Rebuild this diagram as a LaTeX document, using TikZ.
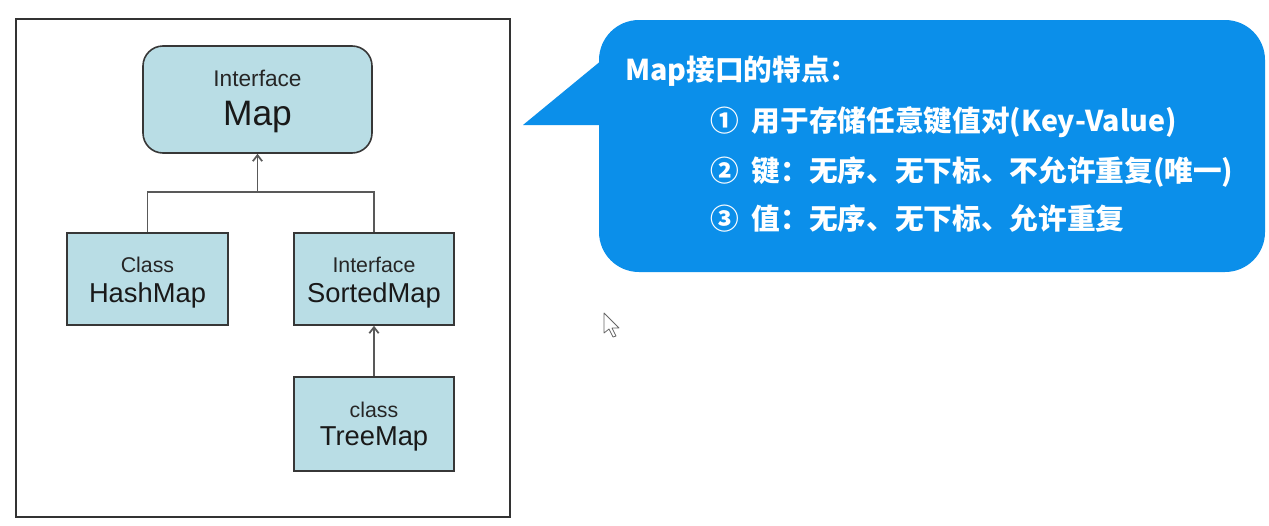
\documentclass[tikz,border=0pt]{standalone}
\usepackage{fontspec}
\setmainfont{Liberation Sans}
\newfontfamily\cjk{Noto Sans CJK SC}
\usetikzlibrary{arrows.meta}
\definecolor{boxfill}{RGB}{185,221,229}
\definecolor{boxline}{RGB}{55,55,55}
\definecolor{bubble}{RGB}{11,143,234}
\tikzset{
  x=0.75pt, y=-0.75pt,
  umlbox/.style={draw=boxline, line width=1.2pt, fill=boxfill, inner sep=0pt},
  small/.style={anchor=base, font=\fontsize{16}{18}\selectfont, text=black!85},
  big/.style={anchor=base, font=\fontsize{20.5}{22}\selectfont, text=black!90},
  conn/.style={draw=black!65, line width=1.3pt},
  arr/.style={conn, -{Straight Barb[length=4.5pt,width=7pt]}},
  cn/.style={anchor=base west, text=white, font=\cjk\bfseries\fontsize{21.5}{23}\selectfont, inner sep=0pt}
}
\begin{document}
\begin{tikzpicture}
\useasboundingbox (0,0) rectangle (1269,525);
% frame
\node[draw=black!80, line width=1.2pt, minimum width=494*0.75pt, minimum height=498*0.75pt, inner sep=0pt] (frame) at (263,268) {};
% boxes
\node[umlbox, rounded corners=15pt, minimum width=229*0.75pt, minimum height=107*0.75pt] (map) at (257.5,99.5) {};
\node[umlbox, minimum width=161*0.75pt, minimum height=92*0.75pt] (hash) at (147.5,279) {};
\node[umlbox, minimum width=160*0.75pt, minimum height=92*0.75pt] (sorted) at (374,279) {};
\node[umlbox, minimum width=160*0.75pt, minimum height=94*0.75pt] (tree) at (374,424) {};
% texts
\node[small, font=\fontsize{17}{19}\selectfont] (t1) at (257.5,86) {Interface};
\node[big, font=\fontsize{26.5}{28}\selectfont] (t2) at (257.5,125) {Map};
\node[small] (t3) at (147.5,272) {Class};
\node[big] (t4) at (147.5,302) {HashMap};
\node[small] (t5) at (374,272) {Interface};
\node[big] (t6) at (374,302) {SortedMap};
\node[small] (t7) at (374,417) {class};
\node[big] (t8) at (374,445) {TreeMap};
% connectors
\coordinate (junc) at (map.south |- 0,192);
\draw[conn] (hash.north) |- (sorted.north |- junc) -- (sorted.north);
\draw[arr] (junc) -- (map.south);
\draw[arr] (tree.north) -- (sorted.south);
% bubble
\fill[bubble] (602,60) -- (523,125) -- (602,125) -- cycle;
\node[fill=bubble, rounded corners=30pt, minimum width=666*0.75pt, minimum height=252*0.75pt, inner sep=0pt] (bub) at (932,146) {};
\node[cn] (l0) at (625,80) {Map接口的特点：};
\node[cn] (l1) at (710,131) {①\hspace{0.45em}用于存储任意键值对(Key-Value)};
\node[cn] (l2) at (710,181) {②\hspace{0.45em}键：无序、无下标、不允许重复(唯一)};
\node[cn] (l3) at (710,229) {③\hspace{0.45em}值：无序、无下标、允许重复};
% cursor
\draw[black!60, fill=white, line width=0.6pt, line join=round] (604,313) -- (604,333) -- (609,329) -- (613,337) -- (616,336) -- (612,328) -- (619,328) -- cycle;
\end{tikzpicture}
\end{document}
